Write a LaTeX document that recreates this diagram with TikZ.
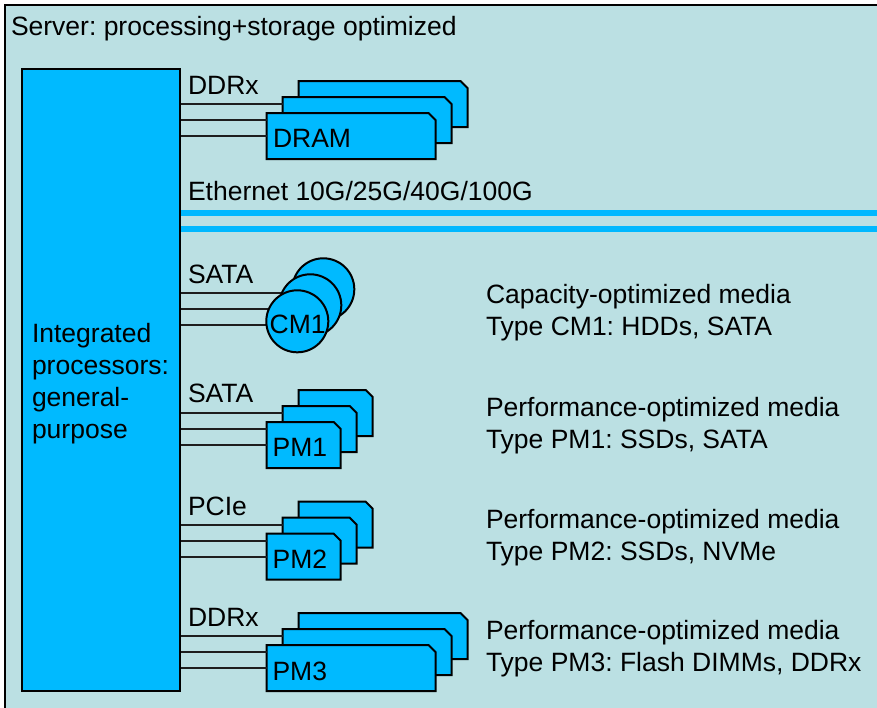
\documentclass[tikz,border=0pt]{standalone}
\usepackage{fontspec}
\setmainfont{Liberation Sans}
\usetikzlibrary{calc}
\definecolor{bgc}{RGB}{187,224,227}
\definecolor{boxc}{RGB}{0,186,255}
\definecolor{ethc}{RGB}{0,184,255}
\definecolor{wirec}{RGB}{30,30,30}
\newcommand\mkcard[3]{%
  \node[cardbox, minimum width=#3] (#1) at (#2) {};
  \filldraw[cardline] (#1.south west) -- (#1.north west) -- ([xshift=-7pt]#1.north east)
    -- ([yshift=-7pt]#1.north east) -- (#1.south east) -- cycle;}
\begin{document}
\frenchspacing
\begin{tikzpicture}[x=1pt,y=-1pt,
  font=\fontsize{26.5}{32}\selectfont,
  txt/.style={anchor=base west, inner sep=0pt, outer sep=0pt},
  cardbox/.style={rectangle, inner sep=0pt, outer sep=0pt, minimum height=46pt},
  cardline/.style={draw=black, line width=2pt, fill=boxc},
  disk/.style={circle, draw=black, line width=2pt, fill=boxc, inner sep=0pt, minimum size=62pt},
  wire/.style={draw=wirec, line width=2pt},
  eth/.style={draw=ethc, line width=6pt}]
\useasboundingbox (0,0) rectangle (877,707);
\clip (0,0) rectangle (877,707);
% outer server frame
\fill[bgc] (5,5) rectangle (895,725);
\draw[line width=2pt] (5,725) -- (5,5) -- (895,5);
\node[txt] (srv) at (11,35.5) {Server: processing+storage optimized};

% processor
\node[draw=black, line width=2pt, fill=boxc, minimum width=158pt, minimum height=622pt, inner sep=0pt] (proc) at (101,380) {};
\node[txt] (proctext) at (32,342.3) {\begin{tabular}[t]{@{}l@{}}Integrated\\processors:\\general-\\purpose\end{tabular}};

% Ethernet
\node[txt] (ethlbl) at (188,200.5) {Ethernet 10G/25G/40G/100G};
\coordinate (e1) at (895,212.5);
\coordinate (e2) at (895,228.5);
\draw[eth] (proc.east |- e1) -- (e1);
\draw[eth] (proc.east |- e2) -- (e2);

% DRAM stack
\node[txt] (l1) at (188,94) {DDRx};
\mkcard{d3}{383,104}{169pt}
\mkcard{d2}{367,120}{169pt}
\mkcard{d1}{351,136}{169pt}
\node[txt] at ($(d1.west)+(6.5,11)$) (dramt) {DRAM};
\draw[wire] (proc.east |- d3.center) -- (d2.west |- d3.center);
\draw[wire] (proc.east |- d2.center) -- (d1.west |- d2.center);
\draw[wire] (proc.east |- d1.center) -- (d1.west);

% CM1 disks
\node[txt] (l2) at (188,283) {SATA};
\coordinate (c3) at (323.3,289.3);
\coordinate (c2) at (310.3,305.3);
\coordinate (c1) at (297.3,321.3);
\coordinate (w1) at ($(c3)+(0,4)$);
\coordinate (w2) at ($(c2)+(0,4)$);
\coordinate (w3) at ($(c1)+(0,4)$);
\draw[wire] (proc.east |- w1) -- (c2 |- w1);
\draw[wire] (proc.east |- w2) -- (c1 |- w2);
\draw[wire] (proc.east |- w3) -- (c1 |- w3);
\node[disk] (cm3) at (c3) {};
\node[disk] (cm2) at (c2) {};
\node[disk] (cm1) at (c1) {};
\node[txt] (cmt) at (269.7,333.3) {CM1};

% PM1
\node[txt] (l3) at (188,402.5) {SATA};
\mkcard{p13}{335.7,413}{74pt}
\mkcard{p12}{319.7,429}{74pt}
\mkcard{p11}{303.7,445}{74pt}
\node[txt] (p1t) at ($(p11.west)+(6,11)$) {PM1};
\draw[wire] (proc.east |- p13.center) -- (p12.west |- p13.center);
\draw[wire] (proc.east |- p12.center) -- (p11.west |- p12.center);
\draw[wire] (proc.east |- p11.center) -- (p11.west);

% PM2
\node[txt] (l4) at (188,515) {PCIe};
\mkcard{p23}{335.7,524.7}{74pt}
\mkcard{p22}{319.7,540.7}{74pt}
\mkcard{p21}{303.7,556.7}{74pt}
\node[txt] (p2t) at ($(p21.west)+(6,11.3)$) {PM2};
\draw[wire] (proc.east |- p23.center) -- (p22.west |- p23.center);
\draw[wire] (proc.east |- p22.center) -- (p21.west |- p22.center);
\draw[wire] (proc.east |- p21.center) -- (p21.west);

% PM3
\node[txt] (l5) at (188,626) {DDRx};
\mkcard{p33}{383,636}{169pt}
\mkcard{p32}{367,652}{169pt}
\mkcard{p31}{351,668}{169pt}
\node[txt] (p3t) at ($(p31.west)+(6,12)$) {PM3};
\draw[wire] (proc.east |- p33.center) -- (p32.west |- p33.center);
\draw[wire] (proc.east |- p32.center) -- (p31.west |- p32.center);
\draw[wire] (proc.east |- p31.center) -- (p31.west);

% descriptions
\node[txt] (dcm1) at (486,303.3) {\begin{tabular}[t]{@{}l@{}}Capacity-optimized media\\Type CM1: HDDs, SATA\end{tabular}};
\node[txt] (dpm1) at (486,416.7) {\begin{tabular}[t]{@{}l@{}}Performance-optimized media\\Type PM1: SSDs, SATA\end{tabular}};
\node[txt] (dpm2) at (486,528.3) {\begin{tabular}[t]{@{}l@{}}Performance-optimized media\\Type PM2: SSDs, NVMe\end{tabular}};
\node[txt] (dpm3) at (486,639.5) {\begin{tabular}[t]{@{}l@{}}Performance-optimized media\\Type PM3: Flash DIMMs, DDRx\end{tabular}};
\end{tikzpicture}
\end{document}
